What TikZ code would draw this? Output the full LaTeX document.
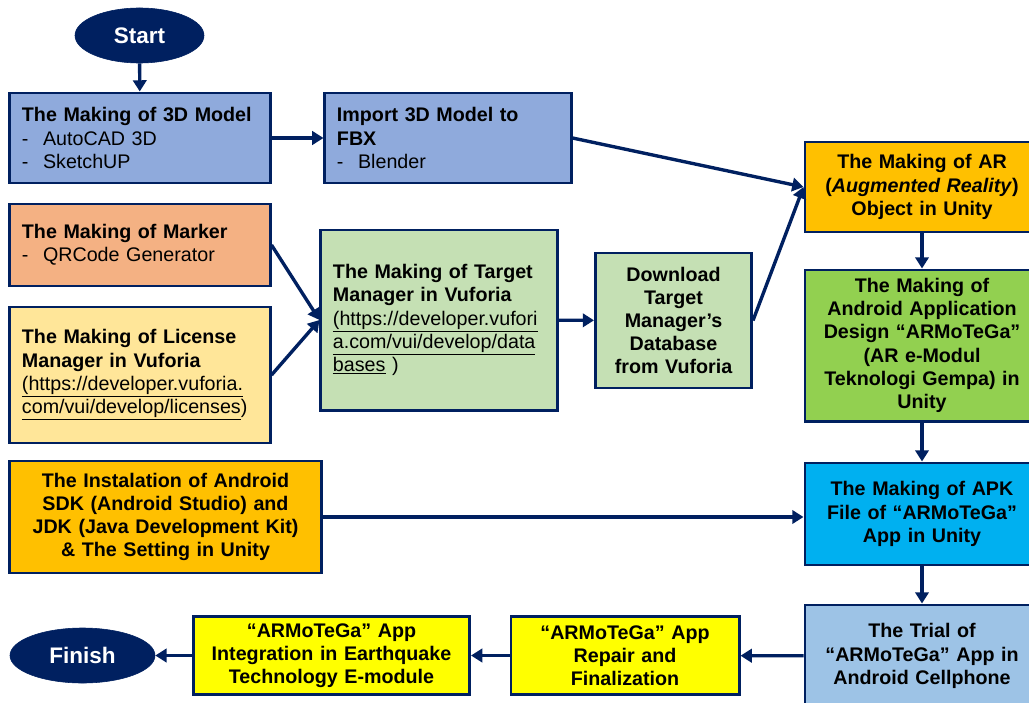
\documentclass[tikz,border=0pt]{standalone}
\usepackage{fontspec}
\setmainfont{Liberation Sans}
\usepackage{xcolor}
\usepackage{tikz}
\usetikzlibrary{shapes.geometric, arrows.meta, positioning, calc}
\definecolor{navyblue}{RGB}{0, 32, 96}
\definecolor{modelblue}{RGB}{143, 170, 220}
\definecolor{markerorange}{RGB}{244, 177, 131}
\definecolor{licenseyellow}{RGB}{255, 230, 153}
\definecolor{vuforiagreen}{RGB}{197, 224, 180}
\definecolor{unitygold}{RGB}{255, 192, 0}
\definecolor{designgreen}{RGB}{146, 208, 80}
\definecolor{apkcyan}{RGB}{0, 176, 240}
\definecolor{trialblue}{RGB}{157, 195, 230}
\definecolor{finalyellow}{RGB}{255, 255, 0}
\newcommand{\dashitem}[1]{\makebox[15pt][l]{-}#1}

\begin{document}
\begin{tikzpicture}[
    x=0.025cm, y=-0.025cm,
    terminal/.style={ellipse, fill=navyblue, draw=navyblue, inner sep=0pt, text=white, font=\fontsize{16}{19}\selectfont\bfseries},
    stage/.style={rectangle, draw=navyblue, line width=2.1pt, fill=#1, inner xsep=0.3cm, inner ysep=2pt, font=\fontsize{14}{16.5}\selectfont},
    lstage/.style={stage=#1, align=left},
    cstage/.style={stage=#1, align=center, font=\fontsize{14}{16.5}\selectfont\bfseries},
    arrow/.style={-{Triangle[length=8pt, width=9.5pt]}, line width=2.4pt, color=navyblue}
]
    \useasboundingbox (0,0) rectangle (1029,702);

    % top row
    \node[terminal, minimum width=3.225cm, minimum height=1.375cm] (start) at (139.5,35.5) {Start};
    \node[lstage=modelblue, minimum width=6.5cm, minimum height=2.25cm, text width=5.9cm] (model) at (140,138)
        {\textbf{The Making of 3D Model}\\\dashitem{AutoCAD 3D}\\\dashitem{SketchUP}};
    \node[lstage=modelblue, minimum width=6.15cm, minimum height=2.25cm, text width=5.55cm] (fbx) at (448,138)
        {\textbf{Import 3D Model to}\\\textbf{FBX}\\\dashitem{Blender}};
    \node[cstage=unitygold, minimum width=5.85cm, minimum height=2.25cm, text width=5.25cm] (arobj) at (922,187)
        {The Making of AR\\(\textit{Augmented Reality})\\Object in Unity};

    % vuforia part
    \node[lstage=markerorange, minimum width=6.5cm, minimum height=2.05cm, text width=5.9cm] (marker) at (140,245)
        {\textbf{The Making of Marker}\\\dashitem{QRCode Generator}};
    \node[lstage=licenseyellow, minimum width=6.5cm, minimum height=3.4cm, text width=5.9cm] (license) at (140,375)
        {\textbf{The Making of License}\\\textbf{Manager in Vuforia}\\\underline{(https://developer.vuforia.}\\\underline{com/vui/develop/licenses})};
    \node[lstage=vuforiagreen, minimum width=5.9cm, minimum height=4.5cm, text width=5.3cm] (target) at (439,320)
        {\textbf{The Making of Target}\\\textbf{Manager in Vuforia}\\\underline{(https://developer.vufori}\\\underline{a.com/vui/develop/data}\\\underline{bases} )};
    \node[cstage=vuforiagreen, minimum width=3.875cm, minimum height=3.375cm, text width=3.3cm] (download) at (673.5,320.5)
        {Download\\Target\\Manager’s\\Database\\from Vuforia};
    \node[cstage=designgreen, minimum width=5.85cm, minimum height=3.775cm, text width=5.25cm] (design) at (922,345.5)
        {The Making of\\Android Application\\Design “ARMoTeGa”\\(AR e-Modul\\Teknologi Gempa) in\\Unity};

    % build part
    \node[cstage=unitygold, minimum width=7.775cm, minimum height=2.8cm, text width=7.1cm] (install) at (165.5,517)
        {The Instalation of Android\\SDK (Android Studio) and\\JDK (Java Development Kit)\\\& The Setting in Unity};
    \node[cstage=apkcyan, minimum width=5.85cm, minimum height=2.55cm, text width=5.25cm] (apk) at (922,514)
        {The Making of APK\\File of “ARMoTeGa”\\App in Unity};

    % bottom row
    \node[cstage=trialblue, minimum width=5.85cm, minimum height=2.55cm, text width=5.25cm] (trial) at (922,656)
        {The Trial of\\“ARMoTeGa” App in\\Android Cellphone};
    \node[cstage=finalyellow, minimum width=5.65cm, minimum height=1.95cm, text width=5.1cm] (repair) at (625,655.5)
        {“ARMoTeGa” App\\Repair and\\Finalization};
    \node[cstage=finalyellow, minimum width=6.875cm, minimum height=1.95cm, text width=6.3cm] (integ) at (331.5,655.5)
        {“ARMoTeGa” App\\Integration in Earthquake\\Technology E-module};
    \node[terminal, minimum width=3.625cm, minimum height=1.375cm] (finish) at (82.5,655.5) {Finish};

    \draw[arrow] (start) -- (model);
    \draw[arrow] (model) -- (fbx);
    \draw[arrow] (fbx.east) -- (arobj.west);
    \draw[arrow] (marker.east) -- (target.west);
    \draw[arrow] (license.east) -- (target.west);
    \draw[arrow] (target) -- (download);
    \draw[arrow] (download.east) -- (arobj.west);
    \draw[arrow] (arobj) -- (design);
    \draw[arrow] (design) -- (apk);
    \draw[arrow] (install.east) -- (install.east -| apk.west);
    \draw[arrow] (apk) -- (trial);
    \draw[arrow] (trial) -- (repair);
    \draw[arrow] (repair) -- (integ);
    \draw[arrow] (integ) -- (finish);
\end{tikzpicture}
\end{document}
